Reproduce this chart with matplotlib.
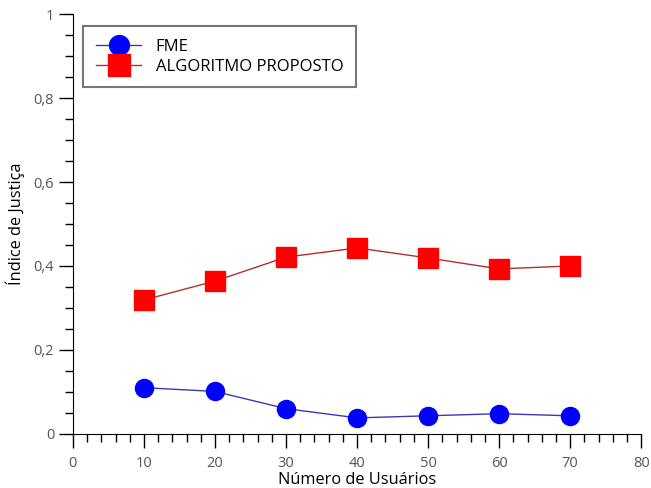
import matplotlib
matplotlib.use('Agg')
import matplotlib.pyplot as plt
from matplotlib.ticker import MultipleLocator, FuncFormatter

# data
usuarios = [10, 20, 30, 40, 50, 60, 70]
fme = [0.110, 0.101, 0.060, 0.038, 0.043, 0.048, 0.043]
proposto = [0.319, 0.364, 0.421, 0.443, 0.419, 0.393, 0.400]

plt.rcParams['font.family'] = ['Open Sans', 'DejaVu Sans']

fig = plt.figure(figsize=(6.51, 4.88), dpi=100)
ax = fig.add_axes([0.112, 0.111, 0.873, 0.860])

ax.plot(usuarios, fme, color='#3a3ab0', lw=1, marker='o', ms=13,
        mfc='#0000ff', mec='#0000ff', label='FME')
ax.plot(usuarios, proposto, color='#b03030', lw=1, marker='s', ms=14,
        mfc='#ff0000', mec='#ff0000', label='ALGORITMO PROPOSTO')

ax.set_xlim(0, 80)
ax.set_ylim(0, 1)
ax.spines['top'].set_visible(False)
ax.spines['right'].set_visible(False)

ax.xaxis.set_major_locator(MultipleLocator(10))
ax.xaxis.set_minor_locator(MultipleLocator(2))
ax.yaxis.set_major_locator(MultipleLocator(0.2))
ax.yaxis.set_minor_locator(MultipleLocator(0.05))
ax.yaxis.set_major_formatter(FuncFormatter(lambda v, p: ('%g' % round(v, 2)).replace('.', ',')))
ax.tick_params(which='major', length=10, width=1, labelsize=10.5, labelcolor='#555555')
ax.tick_params(which='minor', length=6, width=1)
ax.tick_params(axis='x', pad=6)

ax.set_xlabel('Número de Usuários', fontsize=11.8, labelpad=1)
ax.set_ylabel('Índice de Justiça', fontsize=11.8, labelpad=6)

leg = ax.legend(loc='upper left', bbox_to_anchor=(0.018, 0.971), borderaxespad=0,
                fancybox=False, framealpha=1, edgecolor='#777777', handlelength=2.75,
                fontsize=12, borderpad=0.75, labelspacing=0.25, handletextpad=0.85,
                markerscale=1.1)
leg.get_frame().set_linewidth(1.5)

fig.savefig('out.png', dpi=100)
